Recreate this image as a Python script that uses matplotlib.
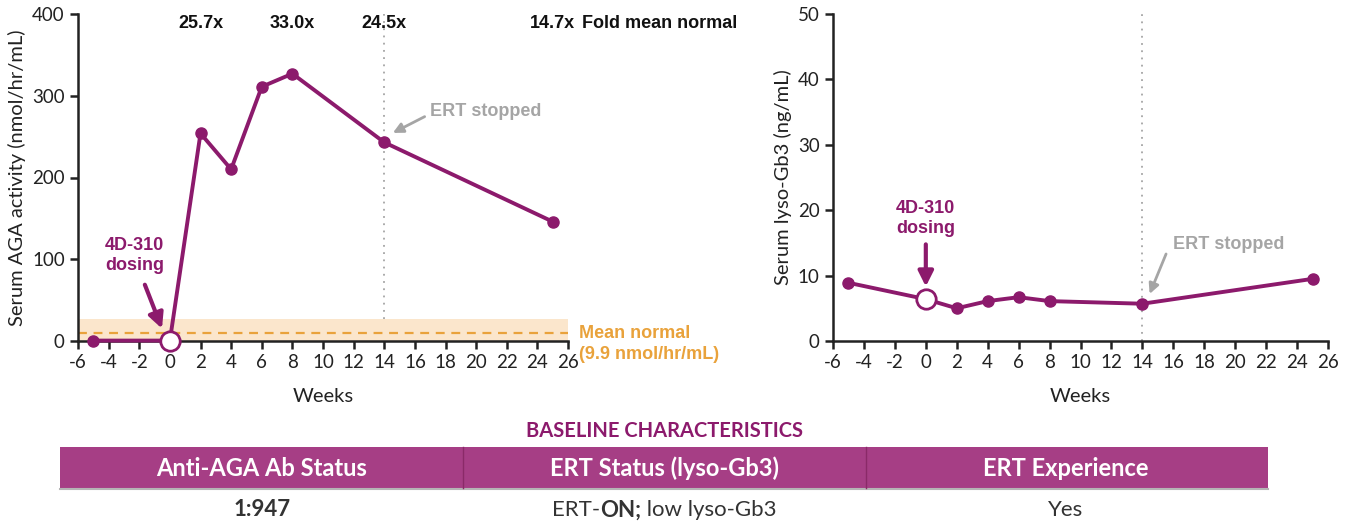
import matplotlib
matplotlib.use("Agg")
import matplotlib.pyplot as plt

# data
weeks = [-5, 0, 2, 4, 6, 8, 14, 25]
aga_activity = [0.5, 0.5, 254, 210, 311, 327, 243, 146]
lyso_gb3 = [8.9, 6.4, 5.0, 6.1, 6.7, 6.1, 5.7, 9.5]
fold_weeks = [2, 8, 14, 25]
fold_labels = ["25.7x", "33.0x", "24.5x", "14.7x"]
mean_normal = 9.9
normal_band = (0, 27)
ert_stop_week = 14
dosing_week = 0
x_ticks = list(range(-6, 27, 2))

table_title = "BASELINE CHARACTERISTICS"
table_headers = ["Anti-AGA Ab Status", "ERT Status (lyso-Gb3)", "ERT Experience"]
# (text, bold) pieces for each body cell
table_row = [[("1:947", True)],
             [("ERT-", False), ("ON;", True), (" low lyso-Gb3", False)],
             [("Yes", False)]]

PURPLE = "#8c1a6c"
ORANGE = "#e9a23b"
GREY = "#a5a5a5"
HEAD = "#a63e85"

plt.rcParams["font.family"] = ["Lato", "DejaVu Sans"]
BOLD = ["Liberation Sans", "DejaVu Sans"]

fig = plt.figure(figsize=(13.5, 5.26), dpi=100)
W, H = 1350, 526


def axes_px(x0, y0, x1, y1):
    return fig.add_axes([x0 / W, 1 - y1 / H, (x1 - x0) / W, (y1 - y0) / H])


def style_axes(ax, ymax, ystep, ylabel):
    ax.set_xlim(-6, 26)
    ax.set_ylim(0, ymax)
    ax.set_xticks(x_ticks)
    ax.set_xticklabels([str(t) for t in x_ticks])
    ax.set_yticks(range(0, ymax + 1, ystep))
    for s in ["top", "right"]:
        ax.spines[s].set_visible(False)
    for s in ["left", "bottom"]:
        ax.spines[s].set_linewidth(1.8)
        ax.spines[s].set_color("#222222")
    ax.tick_params(direction="out", width=1.8, length=6, labelsize=13.5,
                   colors="#222222")
    ax.set_xlabel("Weeks", fontsize=14.5, labelpad=12, color="#222222")
    ax.set_ylabel(ylabel, fontsize=14.5, labelpad=4, color="#222222")


# left panel: AGA activity
ax1 = axes_px(78, 14, 568, 341)
style_axes(ax1, 400, 100, "Serum AGA activity (nmol/hr/mL)")
ax1.axhspan(*normal_band, color="#fbe6cc", zorder=0, lw=0)
ax1.axhline(mean_normal, color=ORANGE, ls=(0, (4, 3)), lw=1.6, zorder=1)
ax1.axvline(ert_stop_week, ymin=normal_band[1] / 400, color=GREY, ls=(0, (1, 3)), lw=1.3, zorder=1)
ax1.plot(weeks, aga_activity, color=PURPLE, lw=2.8, marker="o", ms=8,
         zorder=3, clip_on=False)
i0 = weeks.index(dosing_week)
ax1.plot(weeks[i0], aga_activity[i0], "o", ms=14, mfc="white", mec=PURPLE,
         mew=2, zorder=4, clip_on=False)

for wk, lab in zip(fold_weeks, fold_labels):
    ax1.text(wk, 388, lab, ha="center", va="center", fontsize=13,
             fontweight="bold", family=BOLD, color="#111111")
ax1.text(26.9, 388, "Fold mean normal", ha="left", va="center", fontsize=13,
         fontweight="bold", family=BOLD, color="#111111", clip_on=False)

ax1.text(26.7, -4, "Mean normal\n(9.9 nmol/hr/mL)", ha="left", va="center",
         fontsize=13, fontweight="bold", family=BOLD, color=ORANGE,
         linespacing=1.3, clip_on=False)

ax1.text(-2.3, 105, "4D-310\ndosing", ha="center", va="center", fontsize=13,
         fontweight="bold", family=BOLD, color=PURPLE, linespacing=1.25)
ax1.annotate("", xy=(-0.45, 12), xytext=(-1.7, 72),
             arrowprops=dict(arrowstyle="-|>,head_width=0.45,head_length=0.9",
                             color=PURPLE, lw=3))
ax1.text(17.0, 281, "ERT stopped", ha="left", va="center", fontsize=13,
         fontweight="bold", family=BOLD, color=GREY)
ax1.annotate("", xy=(14.4, 253), xytext=(16.8, 276),
             arrowprops=dict(arrowstyle="-|>,head_width=0.3,head_length=0.6",
                             color=GREY, lw=2))

# right panel: lyso-Gb3
ax2 = axes_px(833, 14, 1328, 341)
style_axes(ax2, 50, 10, "Serum lyso-Gb3 (ng/mL)")
ax2.axvline(ert_stop_week, color=GREY, ls=(0, (1, 3)), lw=1.3, zorder=1)
ax2.plot(weeks, lyso_gb3, color=PURPLE, lw=2.8, marker="o", ms=8, zorder=3,
         clip_on=False)
ax2.plot(weeks[i0], lyso_gb3[i0], "o", ms=14, mfc="white", mec=PURPLE,
         mew=2, zorder=4, clip_on=False)
ax2.text(0, 18.7, "4D-310\ndosing", ha="center", va="center", fontsize=13,
         fontweight="bold", family=BOLD, color=PURPLE, linespacing=1.25)
ax2.annotate("", xy=(0, 7.9), xytext=(0, 15.2),
             arrowprops=dict(arrowstyle="-|>,head_width=0.45,head_length=0.9",
                             color=PURPLE, lw=3))
ax2.text(16.0, 14.8, "ERT stopped", ha="left", va="center", fontsize=13,
         fontweight="bold", family=BOLD, color=GREY)
ax2.annotate("", xy=(14.4, 6.8), xytext=(15.6, 13.7),
             arrowprops=dict(arrowstyle="-|>,head_width=0.3,head_length=0.6",
                             color=GREY, lw=2))

# baseline characteristics table
tb = fig.add_axes([0, 0, 1, 1])
tb.set_xlim(0, W)
tb.set_ylim(H, 0)
tb.axis("off")
tb.text(665, 431, table_title, ha="center", va="center", fontsize=14.5,
        fontweight="bold", color=PURPLE)
tb.add_patch(plt.Rectangle((60, 447), 1208, 41, color=HEAD, lw=0))
tb.plot([60, 1268], [489, 489], color="#b5b5b5", lw=1.5)
col_centers = [262, 664, 1066]
for xd in [463, 866]:
    tb.plot([xd, xd], [447, 488], color="#8a2a68", lw=1)
for xc, h in zip(col_centers, table_headers):
    tb.text(xc, 468, h, ha="center", va="center", fontsize=17,
            fontweight="bold", color="white")

# body row: lay out mixed-weight pieces, then centre them in the column
fig.canvas.draw()
renderer = fig.canvas.get_renderer()
inv = tb.transData.inverted()
for xc, pieces in zip(col_centers, table_row):
    arts, widths = [], []
    for txt, bold in pieces:
        t = tb.text(0, 510, txt, ha="left", va="center", fontsize=16,
                    fontweight="bold" if bold else "normal", color="#333333")
        bb = t.get_window_extent(renderer)
        widths.append(inv.transform((bb.x1, 0))[0] - inv.transform((bb.x0, 0))[0])
        arts.append(t)
    x = xc - sum(widths) / 2
    for t, w in zip(arts, widths):
        t.set_x(x)
        x += w

fig.savefig("out.png", dpi=100)
